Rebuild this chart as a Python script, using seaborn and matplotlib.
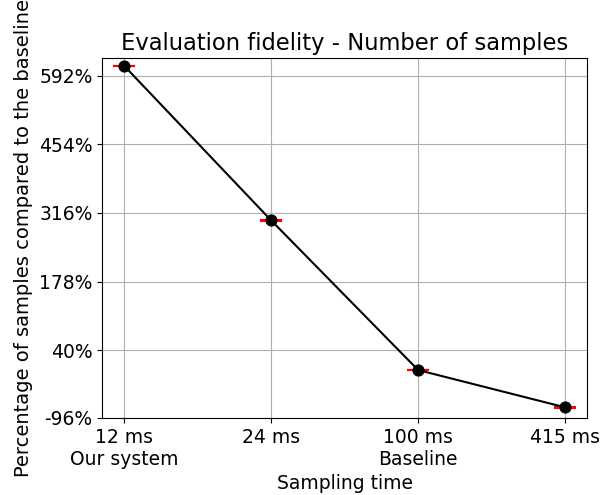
import numpy as np
import pandas as pd
import matplotlib
matplotlib.use("Agg")
import matplotlib.pyplot as plt
import seaborn as sns

# Data
categories = ["12 ms\nOur system", "24 ms", "100 ms\nBaseline", "415 ms"]
values = [612, 301, 0, -75]          # percentage relative to baseline
errors = [0.5, 0.5, 0.5, 0.5]        # tiny spread (shown as red caps)
ytick_vals = [-96, 40, 178, 316, 454, 592]
ytick_labels = ["-96%", "40%", "178%", "316%", "454%", "592%"]

df = pd.DataFrame({"pos": np.arange(len(categories)), "val": values})

fig = plt.figure(figsize=(6.01, 4.95), dpi=100)
ax = fig.add_axes([0.170, 0.156, 0.807, 0.727])

ax.errorbar(df["pos"], df["val"], yerr=errors, fmt="none", ecolor="red",
            elinewidth=1.5, capsize=8, capthick=1.5, zorder=2)
sns.lineplot(data=df, x="pos", y="val", color="black", marker="o",
             markersize=8, markeredgecolor="black", linewidth=1.5, ax=ax, zorder=3)

ax.set_xticks(df["pos"])
ax.set_xticklabels(categories, fontsize=13.5)
ax.set_yticks(ytick_vals)
ax.set_yticklabels(ytick_labels, fontsize=13.5)
ax.set_ylim(-96, 628)
ax.set_xlim(-0.15, 3.15)
ax.grid(True, color="#b0b0b0", linewidth=0.8)
ax.set_axisbelow(True)
ax.set_xlabel("Sampling time", fontsize=13.5)
ax.set_ylabel("Percentage of samples compared to the baseline", fontsize=14)
ax.set_title("Evaluation fidelity - Number of samples", fontsize=16.3)

fig.savefig("out.png", dpi=100)
